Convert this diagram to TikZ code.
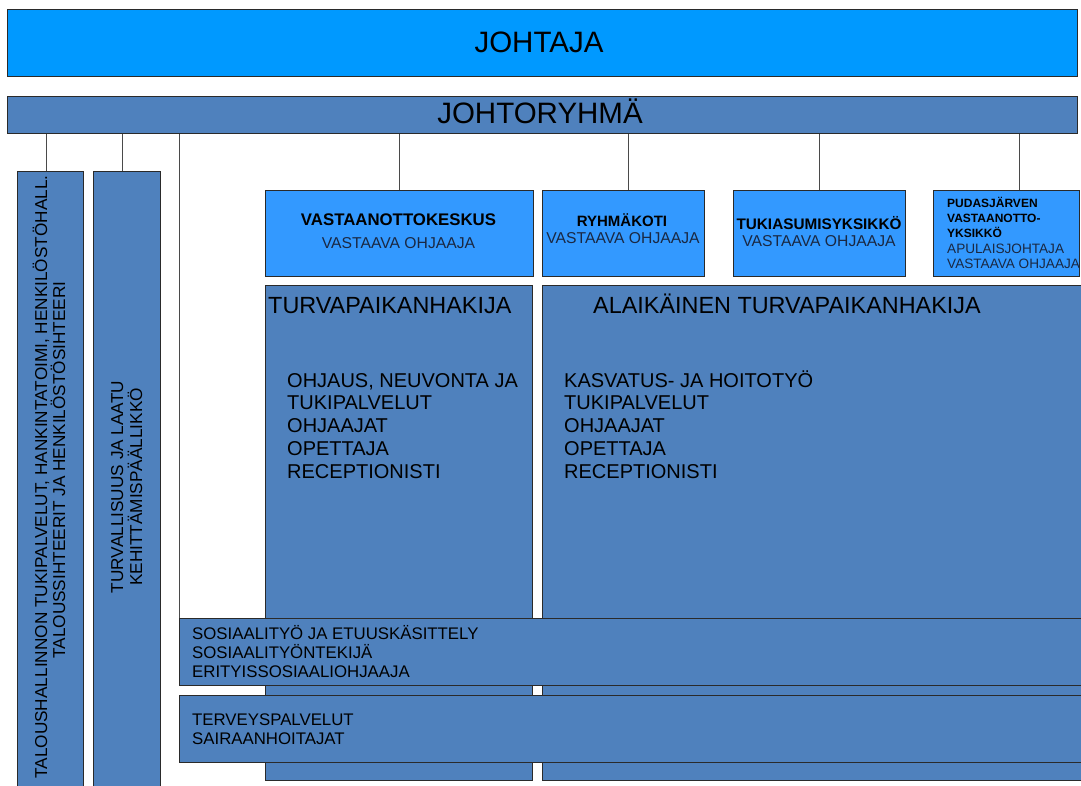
\documentclass[tikz,border=0pt]{standalone}
\usepackage{fontspec}
\setmainfont{Liberation Sans}
\definecolor{topblue}{HTML}{0099FF}
\definecolor{unitblue}{HTML}{3399FF}
\definecolor{midblue}{HTML}{4F81BD}
\definecolor{boxline}{HTML}{2A2A2A}
\definecolor{connline}{HTML}{4A4A4A}
\definecolor{navytext}{HTML}{1A2842}
\newcommand{\fs}[2]{\fontsize{#1}{#2}\selectfont}
\begin{document}
\begin{tikzpicture}[x=1pt,y=-1pt,
  box/.style={draw=boxline,line width=1.1pt,inner sep=0pt,anchor=north west},
  conn/.style={draw=connline,line width=1pt},
  txt/.style={inner sep=0pt,text=black},
  lst/.style={txt,anchor=base west,font=\fs{20}{22.9},align=left}
]
\useasboundingbox (0,0) rectangle (1081,785);
\clip (0,0) rectangle (1081,785);
\fill[white] (0,0) rectangle (1081,785);

% top boxes
\node[box,fill=topblue,minimum width=1070pt,minimum height=67pt] (jo) at (7,9) {};
\node[box,fill=midblue,minimum width=1070pt,minimum height=36.7pt] (jr) at (7,96) {};
\node[txt,anchor=base,font=\fs{29.5}{33}] (tjo) at (539,52.3) {JOHTAJA};
\node[txt,anchor=base,font=\fs{29.5}{33}] (tjr) at (540,123) {JOHTORYHMÄ};

% left tall boxes
\node[box,fill=midblue,minimum width=66.6pt,minimum height=650pt] (lb1) at (16.7,171) {};
\node[box,fill=midblue,minimum width=66.7pt,minimum height=650pt] (lb2) at (93.3,171) {};
\node[txt,anchor=base,rotate=90,font=\fs{17.2}{19}] (tl1a) at (47,477) {TALOUSHALLINNON TUKIPALVELUT, HANKINTATOIMI, HENKILÖSTÖHALL.};
\node[txt,anchor=base,rotate=90,font=\fs{17.2}{19}] (tl1b) at (65,470) {TALOUSSIHTEERIT JA HENKILÖSTÖSIHTEERI};
\node[txt,anchor=base,rotate=90,font=\fs{17.2}{19}] (tl2a) at (123,487) {TURVALLISUUS JA LAATU};
\node[txt,anchor=base,rotate=90,font=\fs{17.2}{19}] (tl2b) at (142,487) {KEHITTÄMISPÄÄLLIKKÖ};

% unit boxes
\node[box,fill=unitblue,minimum width=268pt,minimum height=85.7pt] (u1) at (264.7,190) {};
\node[box,fill=unitblue,minimum width=162.3pt,minimum height=85.7pt] (u2) at (541.7,190) {};
\node[box,fill=unitblue,minimum width=172.3pt,minimum height=85.7pt] (u3) at (732.7,190) {};
\node[box,fill=unitblue,minimum width=146pt,minimum height=85.7pt] (u4) at (933,190) {};

\node[txt,anchor=base,font=\bfseries\fs{16.8}{19}] (u1a) at (398.5,225) {VASTAANOTTOKESKUS};
\node[txt,anchor=base,font=\fs{15.7}{17},text=navytext] (u1b) at (398.5,248) {VASTAAVA OHJAAJA};
\node[txt,anchor=base,font=\bfseries\fs{15}{17}] (u2a) at (622,226) {RYHMÄKOTI};
\node[txt,anchor=base,font=\fs{15.7}{17},text=navytext] (u2b) at (623,243.3) {VASTAAVA OHJAAJA};
\node[txt,anchor=base,font=\bfseries\fs{15.3}{17}] (u3a) at (819,229) {TUKIASUMISYKSIKKÖ};
\node[txt,anchor=base,font=\fs{15.7}{17},text=navytext] (u3b) at (819,246.7) {VASTAAVA OHJAAJA};
\node[txt,anchor=base west,font=\bfseries\fs{12}{15}] (u4a) at (947,207.7) {PUDASJÄRVEN};
\node[txt,anchor=base west,font=\bfseries\fs{12}{15}] (u4b) at (947,222.7) {VASTAANOTTO-};
\node[txt,anchor=base west,font=\bfseries\fs{12}{15}] (u4c) at (947,237.7) {YKSIKKÖ};
\node[txt,anchor=base west,font=\fs{13.6}{15},text=navytext] (u4d) at (947,253.3) {APULAISJOHTAJA};
\node[txt,anchor=base west,font=\fs{13.6}{15},text=navytext] (u4e) at (947,268.3) {VASTAAVA OHJAAJA};

% big boxes
\node[box,fill=midblue,minimum width=267.6pt,minimum height=495pt] (b1) at (264.7,285) {};
\node[box,fill=midblue,minimum width=560pt,minimum height=495pt] (b2) at (541.7,285) {};
\node[txt,anchor=base west,font=\fs{23.4}{26}] (b1t) at (268,313) {TURVAPAIKANHAKIJA};
\node[txt,anchor=base west,font=\fs{23.4}{26}] (b2t) at (593,313) {ALAIKÄINEN TURVAPAIKANHAKIJA};
\node[lst] (b1l) at (287,478.6) {OHJAUS, NEUVONTA JA\\TUKIPALVELUT\\OHJAAJAT\\OPETTAJA\\RECEPTIONISTI};
\node[lst] (b2l) at (564,478.6) {KASVATUS- JA HOITOTYÖ\\TUKIPALVELUT\\OHJAAJAT\\OPETTAJA\\RECEPTIONISTI};

% horizontal service boxes
\node[box,fill=midblue,minimum width=920pt,minimum height=67pt] (sos) at (179,618) {};
\node[box,fill=midblue,minimum width=920pt,minimum height=67pt] (ter) at (179,695) {};
\node[txt,anchor=base west,font=\fs{16.8}{19},align=left] (sost) at (192,677) {SOSIAALITYÖ JA ETUUSKÄSITTELY\\SOSIAALITYÖNTEKIJÄ\\ERITYISSOSIAALIOHJAAJA};
\node[txt,anchor=base west,font=\fs{16.8}{19},align=left] (tert) at (192,744) {TERVEYSPALVELUT\\SAIRAANHOITAJAT};

% connectors
\coordinate (vx) at (179,0);
\draw[conn] ([xshift=-4.5pt]lb1.north) -- ([xshift=-4.5pt]lb1.north |- jr.south);
\draw[conn] ([xshift=-4.5pt]lb2.north) -- ([xshift=-4.5pt]lb2.north |- jr.south);
\draw[conn] (jr.south -| vx) -- (sos.north west);
\draw[conn] (u1.north) -- (u1.north |- jr.south);
\draw[conn] ([xshift=5pt]u2.north) -- ([xshift=5pt]u2.north |- jr.south);
\draw[conn] (u3.north) -- (u3.north |- jr.south);
\draw[conn] ([xshift=13pt]u4.north) -- ([xshift=13pt]u4.north |- jr.south);
\end{tikzpicture}
\end{document}
